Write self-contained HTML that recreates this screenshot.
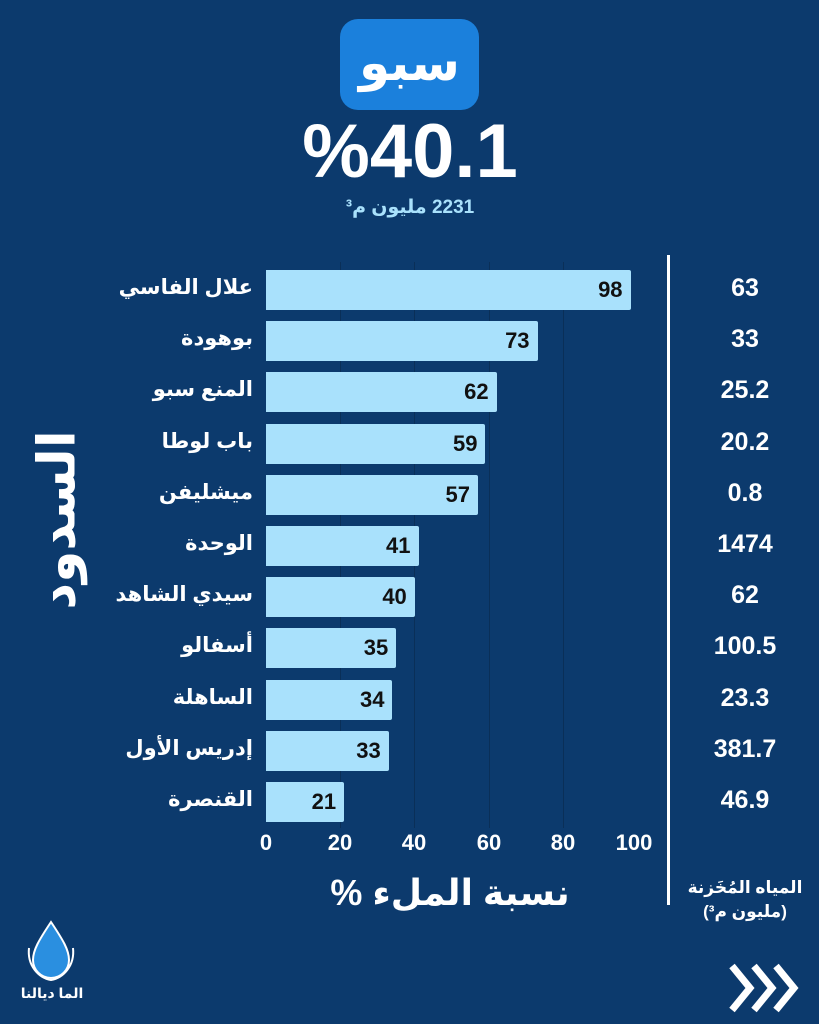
<!DOCTYPE html>
<html><head><meta charset="utf-8"><style>
body{margin:0;width:819px;height:1024px;background:#0c3a6d;position:relative;overflow:hidden;font-family:"Liberation Sans","DejaVu Sans",sans-serif;color:#fff}
.a{position:absolute}
.bar{position:absolute;left:266px;height:40px;background:#a9e1fc;border-radius:0 2px 2px 0}
.bv{position:absolute;right:8px;top:0;line-height:40px;font-size:22px;font-weight:bold;color:#111}
.lab{position:absolute;right:566px;font-size:21px;font-weight:bold;line-height:40px;text-align:right;white-space:nowrap;direction:rtl}
.val{position:absolute;left:680px;width:130px;text-align:center;font-size:25px;font-weight:bold;line-height:40px}
.g{position:absolute;top:262px;height:566px;width:1px;background:#0a2f58}
.t{position:absolute;top:830px;font-size:22px;font-weight:bold;width:60px;text-align:center}
</style></head><body>
<div class="a" style="left:340px;top:19px;width:139px;height:91px;background:#1b80dc;border-radius:18px;text-align:center;font-size:50px;font-weight:bold;line-height:88px">سبو</div>
<div class="a" style="left:290px;top:112px;width:240px;text-align:center;font-size:76px;font-weight:bold;line-height:80px">%40.1</div>
<div class="a" style="left:300px;top:196px;width:220px;text-align:center;font-size:19px;color:#a9e1fc;font-weight:bold" dir="rtl">2231 مليون م³</div>
<div class="g" style="left:340px"></div><div class="g" style="left:414px"></div><div class="g" style="left:489px"></div><div class="g" style="left:563px"></div>
<div class="a" style="left:667px;top:255px;width:3px;height:650px;background:#fff"></div>
<div id="rows"></div>
<script>
var d=[["علال الفاسي",98,"63"],["بوهودة",73,"33"],["المنع سبو",62,"25.2"],["باب لوطا",59,"20.2"],["ميشليفن",57,"0.8"],["الوحدة",41,"1474"],["سيدي الشاهد",40,"62"],["أسفالو",35,"100.5"],["الساهلة",34,"23.3"],["إدريس الأول",33,"381.7"],["القنصرة",21,"46.9"]];
var h="";d.forEach(function(r,i){var y=270+i*51.2;
h+='<div class="bar" style="top:'+y+'px;width:'+(r[1]*3.72)+'px"><span class="bv">'+r[1]+'</span></div>';
h+='<div class="lab" style="top:'+(y-2)+'px">'+r[0]+'</div>';
h+='<div class="val" style="top:'+(y-2)+'px">'+r[2]+'</div>';});
document.getElementById("rows").innerHTML=h;
</script>
<div class="t" style="left:236px">0</div><div class="t" style="left:310px">20</div><div class="t" style="left:384px">40</div><div class="t" style="left:459px">60</div><div class="t" style="left:533px">80</div><div class="t" style="left:604px">100</div>
<div class="a" style="left:330px;top:872px;width:240px;text-align:center;font-size:36px;font-weight:bold" dir="rtl">نسبة الملء %</div>
<div class="a" style="left:680px;top:876px;width:130px;text-align:center;font-size:17px;font-weight:bold;line-height:24px" dir="rtl">المياه المُخَزنة<br>(مليون م³)</div>
<div class="a" style="left:8px;top:430px;width:100px;height:180px;display:flex;align-items:center;justify-content:center"><div style="transform:rotate(-90deg);font-size:52px;font-weight:bold;white-space:nowrap" dir="rtl">السدود</div></div>
<svg class="a" style="left:25px;top:918px" width="52" height="64" viewBox="0 0 52 64"><path d="M26 4 C14 22 8 32 8 42 a18 18 0 0 0 36 0 C44 32 38 22 26 4Z" fill="#2a8fe0" stroke="#fff" stroke-width="2"/><path d="M4 30 C2 48 14 60 26 62 C38 60 50 48 48 30" fill="none" stroke="#fff" stroke-width="2"/></svg>
<div class="a" style="left:20px;top:985px;width:64px;text-align:center;font-size:14px;font-weight:bold">الما ديالنا</div>
<svg class="a" style="left:728px;top:962px" width="76" height="52" viewBox="0 0 76 52"><g fill="none" stroke="#fff" stroke-width="7" stroke-linejoin="miter"><polyline points="4,4 22,26 4,48"/><polyline points="26,4 44,26 26,48"/><polyline points="48,4 66,26 48,48"/></g></svg>
</body></html>
